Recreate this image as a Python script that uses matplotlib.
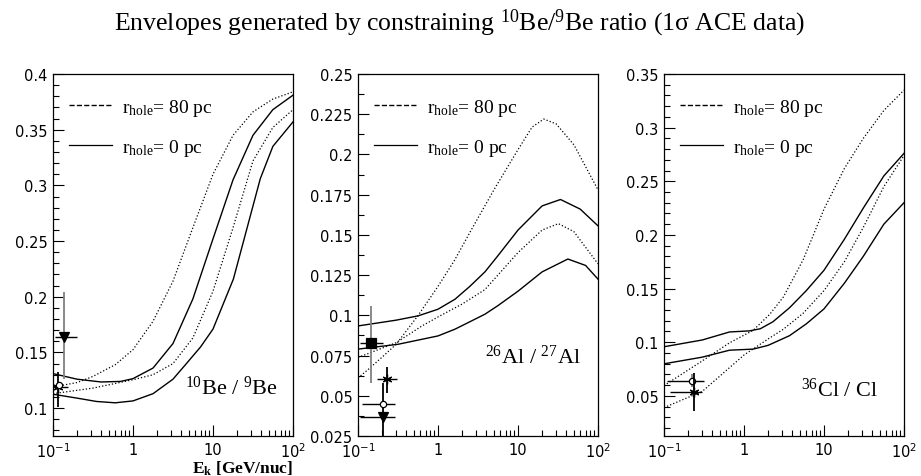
import numpy as np
import matplotlib
matplotlib.use("Agg")
import matplotlib.pyplot as plt
from matplotlib.ticker import FixedLocator, FixedFormatter, LogLocator, NullFormatter, MultipleLocator, FuncFormatter
from matplotlib.lines import Line2D

plt.rcParams['mathtext.fontset'] = 'custom'
plt.rcParams['mathtext.rm'] = 'Liberation Serif'
plt.rcParams['mathtext.it'] = 'Liberation Serif:italic'
plt.rcParams['mathtext.bf'] = 'Liberation Serif:bold'
plt.rcParams['mathtext.sf'] = 'DejaVu Sans'

# ---- 10Be / 9Be ----
be_x_d80_hi = [0.1, 0.2, 0.316, 0.6, 1, 1.78, 3.16, 5.6, 10, 17.8, 31.6, 56, 100]
be_y_d80_hi = [0.119, 0.123, 0.1285, 0.139, 0.1525, 0.178, 0.214, 0.262, 0.31, 0.345, 0.366, 0.3775, 0.384]
be_x_d80_lo = [0.1, 0.316, 0.5, 1, 1.78, 3.16, 5.6, 10, 17.8, 31.6, 56, 100]
be_y_d80_lo = [0.113, 0.118, 0.121, 0.1255, 0.13, 0.14, 0.163, 0.205, 0.262, 0.322, 0.352, 0.368]
be_x_s0_hi = [0.1, 0.2, 0.4, 0.7, 1, 1.78, 3.16, 5.6, 10, 17.8, 31.6, 56, 100]
be_y_s0_hi = [0.131, 0.126, 0.1235, 0.124, 0.1265, 0.136, 0.158, 0.198, 0.252, 0.305, 0.345, 0.368, 0.381]
be_x_s0_lo = [0.1, 0.2, 0.35, 0.6, 1, 1.78, 3.16, 4.4, 7, 10, 18, 39, 56, 100]
be_y_s0_lo = [0.1125, 0.109, 0.106, 0.1048, 0.1065, 0.113, 0.126, 0.138, 0.155, 0.171, 0.216, 0.306, 0.335, 0.357]

# ---- 26Al / 27Al ----
al_x_d80_hi = [0.1, 0.135, 0.2, 0.3, 0.56, 1, 1.6, 2.64, 5, 10, 15, 21, 30, 50, 100]
al_y_d80_hi = [0.061, 0.0665, 0.074, 0.082, 0.0997, 0.118, 0.134, 0.1536, 0.178, 0.203, 0.217, 0.222, 0.219, 0.206, 0.178]
al_x_d80_lo = [0.1, 0.3, 0.63, 1, 2, 3.86, 10, 20, 32, 50, 100]
al_y_d80_lo = [0.0738, 0.083, 0.0934, 0.099, 0.107, 0.116, 0.139, 0.153, 0.157, 0.152, 0.132]
al_x_s0_hi = [0.1, 0.3, 0.567, 1, 1.63, 2.5, 3.86, 5.6, 10, 20, 34, 60, 100]
al_y_s0_hi = [0.0934, 0.097, 0.0997, 0.1038, 0.110, 0.118, 0.127, 0.137, 0.153, 0.168, 0.172, 0.166, 0.1556]
al_x_s0_lo = [0.1, 0.316, 1, 1.63, 2.5, 3.86, 5.6, 10, 20, 42, 70, 100]
al_y_s0_lo = [0.079, 0.082, 0.0872, 0.0914, 0.096, 0.1007, 0.106, 0.115, 0.127, 0.135, 0.131, 0.1225]

# ---- 36Cl / Cl ----
cl_x_d80_hi = [0.1, 0.28, 0.66, 1.3, 2.1, 3.1, 5.5, 10, 18, 31, 56, 100]
cl_y_d80_hi = [0.0595, 0.081, 0.0994, 0.111, 0.126, 0.142, 0.177, 0.224, 0.262, 0.29, 0.316, 0.335]
cl_x_d80_lo = [0.1, 0.3, 1, 2.1, 3.1, 5.5, 10, 18, 31, 56, 100]
cl_y_d80_lo = [0.039, 0.054, 0.088, 0.104, 0.112, 0.127, 0.148, 0.175, 0.207, 0.245, 0.274]
cl_x_s0_hi = [0.1, 0.3, 0.66, 1.17, 1.6, 2.3, 3.7, 6, 10, 18, 31, 56, 100]
cl_y_s0_hi = [0.0957, 0.102, 0.1095, 0.1105, 0.1125, 0.119, 0.132, 0.148, 0.167, 0.196, 0.225, 0.255, 0.276]
cl_x_s0_lo = [0.1, 0.3, 0.66, 1.3, 2.0, 3.7, 6, 10, 18, 31, 56, 100]
cl_y_s0_lo = [0.0798, 0.086, 0.0925, 0.0935, 0.097, 0.106, 0.117, 0.131, 0.155, 0.18, 0.21, 0.23]

# data points: (x, y, xlo, xhi, ylo, yhi, marker, filled, yerr colour)
be_points = [
    (0.137, 0.164, 0.106, 0.2, 0.126, 0.204, 'v', True, 'gray'),
    (0.115, 0.119, 0.1, 0.154, 0.101, 0.1324, (6, 2, 0), True, 'k'),
    (0.118, 0.121, 0.118, 0.118, 0.121, 0.121, 'o', False, 'k'),
]
al_points = [
    (0.144, 0.0827, 0.106, 0.208, 0.0582, 0.106, 's', True, 'gray'),
    (0.228, 0.0603, 0.171, 0.304, 0.052, 0.068, (6, 2, 0), True, 'k'),
    (0.207, 0.0447, 0.111, 0.29, 0.02, 0.058, 'o', False, 'k'),
    (0.203, 0.0365, 0.106, 0.29, 0.0365, 0.0365, 'v', True, 'k'),
]
cl_points = [
    (0.227, 0.0635, 0.109, 0.319, 0.058, 0.0706, 'o', False, 'gray'),
    (0.238, 0.0538, 0.12, 0.3, 0.0355, 0.0717, (6, 2, 0), True, 'k'),
]

panels = [
    dict(curves=[(be_x_d80_hi, be_y_d80_hi, ':'), (be_x_d80_lo, be_y_d80_lo, ':'),
                 (be_x_s0_hi, be_y_s0_hi, '-'), (be_x_s0_lo, be_y_s0_lo, '-')],
         points=be_points, ylim=(0.075, 0.4), major=0.05, minor=0.01,
         label=r'$^{10}$Be / $^{9}$Be', lpos=(0.745, 0.135)),
    dict(curves=[(al_x_d80_hi, al_y_d80_hi, ':'), (al_x_d80_lo, al_y_d80_lo, ':'),
                 (al_x_s0_hi, al_y_s0_hi, '-'), (al_x_s0_lo, al_y_s0_lo, '-')],
         points=al_points, ylim=(0.025, 0.25), major=0.025, minor=0.0125,
         label=r'$^{26}$Al / $^{27}$Al', lpos=(0.727, 0.221)),
    dict(curves=[(cl_x_d80_hi, cl_y_d80_hi, ':'), (cl_x_d80_lo, cl_y_d80_lo, ':'),
                 (cl_x_s0_hi, cl_y_s0_hi, '-'), (cl_x_s0_lo, cl_y_s0_lo, '-')],
         points=cl_points, ylim=(0.0125, 0.35), major=0.05, minor=0.01,
         label=r'$^{36}$Cl / Cl', lpos=(0.73, 0.13)),
]

fig = plt.figure(figsize=(9.21, 4.77), dpi=100)
lefts = [53, 358, 664]

for left, p in zip(lefts, panels):
    ax = fig.add_axes([left / 921, 40 / 477, 240 / 921, 362 / 477])
    for xs, ys, ls in p['curves']:
        lw = 0.9 if ls == ':' else 1.0
        ax.plot(xs, ys, color='k', ls=ls, lw=lw)
    for (x, y, xlo, xhi, ylo, yhi, mk, filled, ecol) in p['points']:
        ax.errorbar([x], [y], xerr=[[x - xlo], [xhi - x]], fmt='none', ecolor='k', elinewidth=1.0, capsize=0)
        ax.errorbar([x], [y], yerr=[[y - ylo], [yhi - y]], fmt='none', ecolor=ecol, elinewidth=1.3, capsize=0)
        ax.plot([x], [y], marker=mk, ms=7 if mk != 'o' else 4.5, color='k',
                mfc='k' if filled else 'white', mec='k', mew=0.9, ls='none')

    ax.set_xscale('log')
    ax.set_xlim(0.1, 100)
    ax.set_ylim(*p['ylim'])
    ax.xaxis.set_major_locator(FixedLocator([0.1, 1, 10, 100]))
    ax.xaxis.set_major_formatter(FixedFormatter([r'$\mathsf{10^{-1}}$', '1', '10', r'$\mathsf{10^{2}}$']))
    ax.xaxis.set_minor_locator(LogLocator(base=10, subs=np.arange(2, 10)))
    ax.xaxis.set_minor_formatter(NullFormatter())
    ax.yaxis.set_major_locator(MultipleLocator(p['major']))
    ax.yaxis.set_minor_locator(MultipleLocator(p['minor']))
    ax.yaxis.set_major_formatter(FuncFormatter(lambda v, pos: '%g' % round(v, 4)))
    ax.tick_params(which='both', direction='in', top=False, right=False, labelsize=10.5)
    ax.tick_params(which='major', length=8, width=0.8)
    ax.tick_params(which='minor', length=4, width=0.8)
    ax.tick_params(axis='x', pad=4)
    ax.tick_params(axis='y', pad=4)
    for s in ax.spines.values():
        s.set_linewidth(0.9)

    handles = [Line2D([], [], color='k', ls='--', lw=1.0), Line2D([], [], color='k', ls='-', lw=0.9)]
    ax.legend(handles, [r'r$_{\rm hole}$= 80 pc', r'r$_{\rm hole}$= 0 pc'],
              loc='upper left', bbox_to_anchor=(0.02, 0.97), frameon=False,
              prop={'family': 'Liberation Serif', 'size': 14}, handlelength=2.2,
              handletextpad=0.5, labelspacing=1.0, borderaxespad=0.2)

    ax.text(p['lpos'][0], p['lpos'][1], p['label'], transform=ax.transAxes,
            ha='center', va='center', fontsize=16, family='Liberation Serif')

    if left == 53:
        ax.text(1.0, -0.088, r'$\mathbf{E_{k}}$ [GeV/nuc]', transform=ax.transAxes,
                ha='right', va='center', fontsize=12.5, family='Liberation Serif', fontweight='bold')

fig.text(0.4985, 0.952, 'Envelopes generated by constraining $^{10}$Be/$^{9}$Be ratio (1\u03c3 ACE data)',
         ha='center', va='center', fontsize=18.5, family='Liberation Serif')

fig.savefig('out.png', dpi=100)
